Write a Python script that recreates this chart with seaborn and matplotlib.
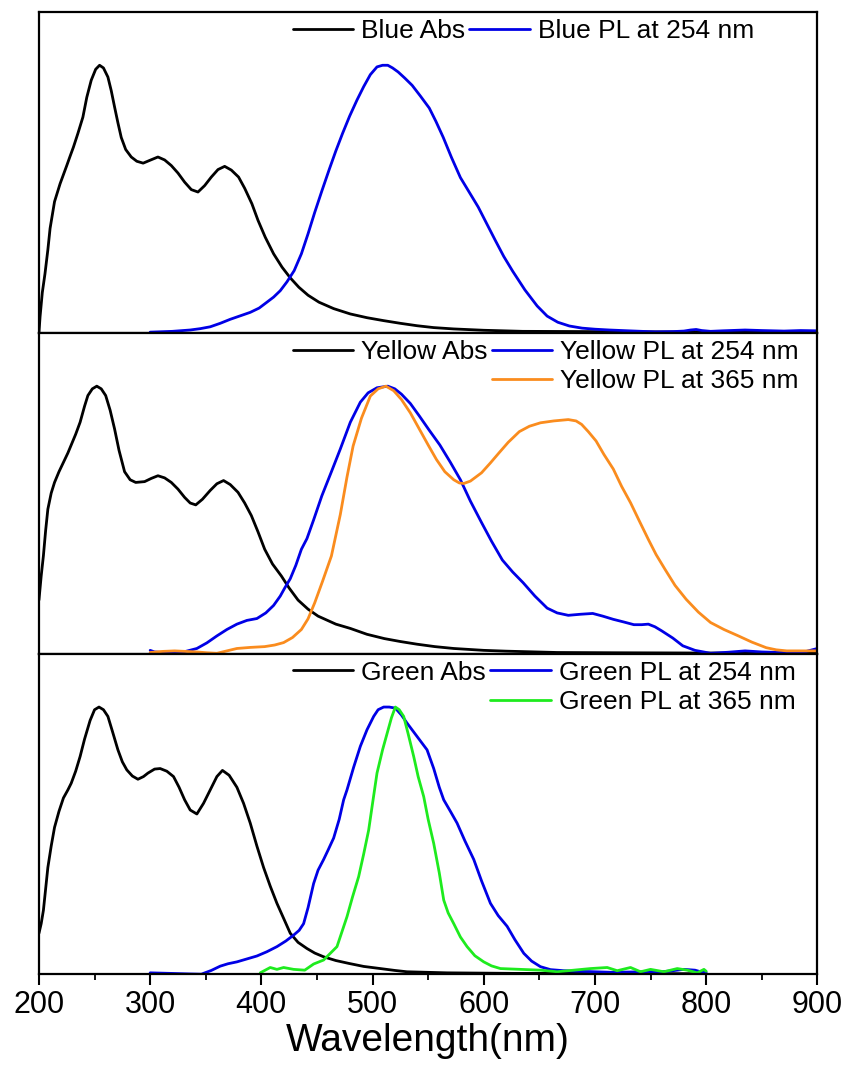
import matplotlib
matplotlib.use("Agg")
import matplotlib.pyplot as plt
from matplotlib.lines import Line2D
from matplotlib.ticker import MultipleLocator
import pandas as pd
import seaborn as sns

# ---------------- data (normalised intensity vs wavelength in nm) ----------------
# Blue sample
blue_abs_wl = [200, 201, 203, 205.4, 208, 210, 214, 219, 225, 228, 231, 235, 239.5, 243, 247,
               251, 254.5, 258, 262, 265, 268, 271, 274, 278, 283, 288, 293.7, 300, 307, 313,
               319, 325, 331, 337, 343, 349, 355, 361, 367, 373, 379.5, 385, 391.5, 397,
               403.5, 411, 418.6, 426, 433.7, 442, 451.8, 465, 480, 495, 510, 525, 540, 555,
               573, 600, 635, 700, 760, 820, 900]
blue_abs = [0.0, 0.06, 0.15, 0.22, 0.31, 0.39, 0.49, 0.557, 0.625, 0.66, 0.694, 0.745, 0.806,
            0.88, 0.944, 0.985, 1.0, 0.99, 0.956, 0.905, 0.844, 0.785, 0.73, 0.685, 0.657,
            0.641, 0.634, 0.645, 0.657, 0.646, 0.625, 0.597, 0.563, 0.535, 0.526, 0.55, 0.582,
            0.61, 0.622, 0.608, 0.582, 0.54, 0.482, 0.42, 0.357, 0.295, 0.245, 0.205, 0.17,
            0.14, 0.114, 0.09, 0.07, 0.056, 0.045, 0.035, 0.026, 0.019, 0.014, 0.009, 0.005,
            0.004, 0.003, 0.003, 0.002]
blue_pl_wl = [300, 320, 336, 345, 354, 363, 372, 381, 390, 398, 405, 411, 417, 423, 429.5, 436,
              442, 448, 454.4, 461, 467, 473, 479.4, 486, 492, 498, 504, 509, 513.7, 518, 523,
              529, 535.6, 543, 551, 557, 563.6, 571, 579, 587, 595, 603, 610.4, 618, 626, 637,
              648, 657, 666.6, 677, 688.4, 700, 713, 730, 754, 770, 780, 786, 791, 796, 804,
              815, 835, 850, 870, 885, 900]
blue_pl = [0.002, 0.005, 0.01, 0.015, 0.022, 0.035, 0.05, 0.063, 0.076, 0.092, 0.114, 0.133,
           0.157, 0.19, 0.232, 0.295, 0.37, 0.45, 0.53, 0.61, 0.68, 0.745, 0.81, 0.87, 0.92,
           0.965, 0.994, 1.0, 1.0, 0.99, 0.975, 0.952, 0.925, 0.885, 0.84, 0.79, 0.73, 0.655,
           0.58, 0.525, 0.47, 0.405, 0.345, 0.285, 0.23, 0.16, 0.10, 0.062, 0.039, 0.025,
           0.017, 0.013, 0.01, 0.007, 0.003, 0.004, 0.006, 0.01, 0.012, 0.008, 0.005, 0.007,
           0.01, 0.008, 0.006, 0.008, 0.007]

# Yellow sample
yellow_abs_wl = [200, 202, 204, 206, 208, 211, 214, 218, 222, 226, 229, 233, 237, 241, 244,
                 248, 252, 256, 260, 264, 268, 272, 277, 282, 287, 295, 301, 307, 313, 319,
                 325, 331, 336, 341, 347, 354, 360, 366, 372, 379, 385, 391, 397, 403, 410,
                 418, 425, 433, 442, 451, 467, 480, 495, 510.6, 525, 540, 556, 573, 600, 620,
                 666, 720, 800, 900]
yellow_abs = [0.20, 0.29, 0.366, 0.46, 0.54, 0.60, 0.64, 0.68, 0.715, 0.75, 0.78, 0.82, 0.865,
              0.925, 0.965, 0.99, 1.0, 0.99, 0.965, 0.91, 0.84, 0.76, 0.68, 0.65, 0.64, 0.643,
              0.655, 0.665, 0.657, 0.64, 0.615, 0.584, 0.563, 0.556, 0.577, 0.61, 0.635, 0.647,
              0.632, 0.603, 0.563, 0.516, 0.455, 0.39, 0.335, 0.29, 0.245, 0.20, 0.166, 0.14,
              0.11, 0.094, 0.072, 0.056, 0.045, 0.035, 0.026, 0.019, 0.012, 0.009, 0.004,
              0.003, 0.002, 0.002]
yellow_pl254_wl = [300, 304, 312, 330, 342, 351, 360, 369, 378, 387, 396, 404, 411, 417, 421,
                   426, 431, 436, 441, 447, 454.4, 463, 471, 480, 489, 496, 504, 513.7, 520,
                   526, 534, 541.8, 551, 560.5, 570, 579, 588, 598, 607, 616.7, 626, 635.4,
                   646, 657, 666, 676, 687, 698, 707, 716.5, 726, 735, 742, 748, 754, 760,
                   770, 779, 790, 804, 820, 835, 850, 866, 880, 890, 900]
yellow_pl254 = [0.012, 0.006, 0.004, 0.006, 0.019, 0.04, 0.066, 0.09, 0.11, 0.124, 0.131,
                0.152, 0.18, 0.215, 0.245, 0.28, 0.33, 0.39, 0.43, 0.50, 0.59, 0.68, 0.765,
                0.865, 0.94, 0.975, 0.994, 1.0, 0.99, 0.97, 0.935, 0.89, 0.835, 0.78, 0.715,
                0.65, 0.57, 0.49, 0.42, 0.35, 0.305, 0.265, 0.215, 0.17, 0.152, 0.143, 0.147,
                0.15, 0.14, 0.128, 0.118, 0.108, 0.108, 0.11, 0.10, 0.085, 0.058, 0.029, 0.012,
                0.001, 0.005, 0.01, 0.006, 0.004, 0.006, 0.008, 0.019]
yellow_pl365_wl = [300, 311, 322, 332, 342, 351, 360, 369, 378, 390, 403, 412, 420, 428, 436,
                   442, 448, 455, 463, 471, 477, 482.5, 490, 498, 505, 512, 519, 526, 534, 542,
                   550, 557.4, 565, 573, 578, 582, 588, 598, 606, 613.6, 622, 632, 641, 651,
                   663, 676, 683, 688, 694, 701, 708, 716.5, 724, 732, 740, 748, 755, 763, 772,
                   782, 793, 804, 816, 829, 841, 854, 863, 872.5, 885, 900]
yellow_pl365 = [0.004, 0.008, 0.01, 0.008, 0.006, 0.003, 0.001, 0.01, 0.019, 0.023, 0.026,
                0.032, 0.041, 0.06, 0.09, 0.13, 0.19, 0.27, 0.365, 0.52, 0.66, 0.776, 0.88,
                0.963, 0.99, 1.0, 0.983, 0.95, 0.90, 0.84, 0.78, 0.726, 0.68, 0.65, 0.638,
                0.636, 0.645, 0.676, 0.713, 0.75, 0.79, 0.83, 0.85, 0.863, 0.87, 0.875, 0.87,
                0.857, 0.83, 0.795, 0.745, 0.69, 0.625, 0.564, 0.495, 0.427, 0.37, 0.315,
                0.255, 0.203, 0.155, 0.116, 0.09, 0.066, 0.043, 0.022, 0.014, 0.01, 0.01, 0.01]

# Green sample
green_abs_wl = [200, 202, 204, 206, 208, 211, 214, 218, 222, 226, 229, 233, 237, 241, 246, 250,
                254, 258, 262, 266, 271, 275, 279, 284, 289, 294, 298, 304, 309, 315, 321, 326,
                331, 336, 342, 348, 354, 360, 365, 371, 378, 384, 390, 396, 402, 408, 414, 420,
                426, 433, 441, 448, 456, 467, 479, 492, 507, 520, 531, 567, 627, 687, 750, 800]
green_abs = [0.154, 0.19, 0.24, 0.32, 0.40, 0.48, 0.55, 0.61, 0.66, 0.69, 0.715, 0.76, 0.815,
             0.88, 0.95, 0.99, 1.0, 0.99, 0.965, 0.91, 0.84, 0.795, 0.765, 0.742, 0.73, 0.74,
             0.753, 0.768, 0.77, 0.76, 0.74, 0.70, 0.653, 0.615, 0.60, 0.64, 0.69, 0.74, 0.763,
             0.745, 0.70, 0.64, 0.566, 0.48, 0.40, 0.33, 0.266, 0.21, 0.154, 0.12, 0.097, 0.08,
             0.066, 0.052, 0.041, 0.03, 0.022, 0.015, 0.01, 0.006, 0.004, 0.004, 0.003, 0.003]
green_pl254_wl = [300, 318, 335, 346, 355, 363, 370, 378, 387, 396, 405, 414, 422, 429, 434,
                  438, 442, 447, 451, 456, 460, 465, 470, 474, 477, 483, 489, 495, 501, 505, 510,
                  515, 520.5, 526, 531, 540, 549, 555, 560, 564, 570, 576, 583, 591, 598, 606,
                  613, 621, 628, 636, 643, 651, 660, 672, 685, 700, 715, 730, 745, 760, 770, 780,
                  790, 795, 800]
green_pl254 = [0.006, 0.004, 0.002, 0.001, 0.015, 0.031, 0.04, 0.047, 0.058, 0.069, 0.085,
               0.104, 0.125, 0.147, 0.165, 0.19, 0.25, 0.34, 0.39, 0.43, 0.465, 0.51, 0.58,
               0.653, 0.69, 0.775, 0.853, 0.915, 0.965, 0.99, 1.0, 1.0, 0.996, 0.97, 0.94,
               0.89, 0.84, 0.77, 0.70, 0.653, 0.61, 0.566, 0.50, 0.43, 0.35, 0.266, 0.22, 0.18,
               0.13, 0.079, 0.05, 0.029, 0.018, 0.014, 0.012, 0.01, 0.008, 0.009, 0.01, 0.01,
               0.014, 0.019, 0.016, 0.01, 0.008]
green_pl365_wl = [399, 408, 414, 420, 429, 439, 447, 456, 462, 468, 477, 482, 487.5, 492, 496.5,
                  500, 504, 509, 513, 517, 520.5, 524, 528, 532, 537, 541, 546, 550, 555, 560,
                  564, 568, 573, 579, 585, 592, 600, 607, 615, 633, 651, 666, 681, 696, 711,
                  720, 732, 741, 750, 762, 774, 783, 792, 798, 800]
green_pl365 = [0.006, 0.026, 0.019, 0.026, 0.019, 0.016, 0.039, 0.054, 0.079, 0.104, 0.216,
               0.29, 0.366, 0.45, 0.54, 0.64, 0.753, 0.84, 0.90, 0.96, 1.0, 0.99, 0.965, 0.90,
               0.815, 0.74, 0.665, 0.58, 0.49, 0.38, 0.278, 0.23, 0.19, 0.14, 0.104, 0.07,
               0.047, 0.032, 0.022, 0.019, 0.016, 0.01, 0.016, 0.022, 0.026, 0.014, 0.026,
               0.01, 0.019, 0.01, 0.022, 0.016, 0.006, 0.019, 0.012]

# ---------------- style ----------------
sns.set_theme(style="ticks")
plt.rcParams["font.family"] = ["Liberation Sans", "DejaVu Sans"]
plt.rcParams["text.color"] = "black"
plt.rcParams["axes.labelcolor"] = "black"
plt.rcParams["xtick.color"] = "black"
plt.rcParams["axes.linewidth"] = 1.6

BLACK = "#000000"
BLUE = "#0000E6"
ORANGE = "#FA8C1E"
GREEN = "#1EEB1E"
LW = 2.0

fig, axes = plt.subplots(3, 1, figsize=(8.47, 10.72), dpi=100, sharex=True)
fig.subplots_adjust(left=0.046, right=0.965, top=0.989, bottom=0.091, hspace=0)

panels = [
    [("Blue Abs", blue_abs_wl, blue_abs, BLACK),
     ("Blue PL at 254 nm", blue_pl_wl, blue_pl, BLUE)],
    [("Yellow Abs", yellow_abs_wl, yellow_abs, BLACK),
     ("Yellow PL at 254 nm", yellow_pl254_wl, yellow_pl254, BLUE),
     ("Yellow PL at 365 nm", yellow_pl365_wl, yellow_pl365, ORANGE)],
    [("Green Abs", green_abs_wl, green_abs, BLACK),
     ("Green PL at 254 nm", green_pl254_wl, green_pl254, BLUE),
     ("Green PL at 365 nm", green_pl365_wl, green_pl365, GREEN)],
]

for ax, series in zip(axes, panels):
    handles = []
    labels = []
    for name, wl, val, col in series:
        df = pd.DataFrame({"wavelength": wl, "intensity": val})
        sns.lineplot(data=df, x="wavelength", y="intensity", ax=ax, color=col,
                     linewidth=LW, sort=False, estimator=None, legend=False)
        handles.append(Line2D([], [], color=col, linewidth=LW))
        labels.append(name)
    if len(handles) == 3:
        blank = Line2D([], [], color="none")
        handles = [handles[0], blank, handles[1], handles[2]]
        labels = [labels[0], "", labels[1], labels[2]]
    ax.legend(handles, labels, ncol=2, frameon=False, loc="upper left",
              bbox_to_anchor=(0.326, 0.978), borderaxespad=0, borderpad=0,
              fontsize=19, handlelength=2.3, handletextpad=0.3,
              columnspacing=0.15, labelspacing=0.2)
    ax.set_xlim(200, 900)
    ax.set_ylim(0, 1.2)
    ax.set_yticks([])
    ax.set_ylabel("")
    ax.set_xlabel("")
    for sp in ax.spines.values():
        sp.set_visible(True)
        sp.set_color("black")
        sp.set_linewidth(1.6)
    ax.tick_params(axis="x", which="both", bottom=False, labelbottom=False)

bottom = axes[-1]
bottom.xaxis.set_major_locator(MultipleLocator(100))
bottom.xaxis.set_minor_locator(MultipleLocator(50))
bottom.tick_params(axis="x", which="major", bottom=True, labelbottom=True, direction="out",
                   length=8, width=1.5, labelsize=22, pad=3, colors="black")
bottom.tick_params(axis="x", which="minor", bottom=True, direction="out", length=4.5,
                   width=1.3, colors="black")
bottom.set_xlabel("Wavelength(nm)", fontsize=28, labelpad=2)

fig.savefig("out.png", dpi=100)
